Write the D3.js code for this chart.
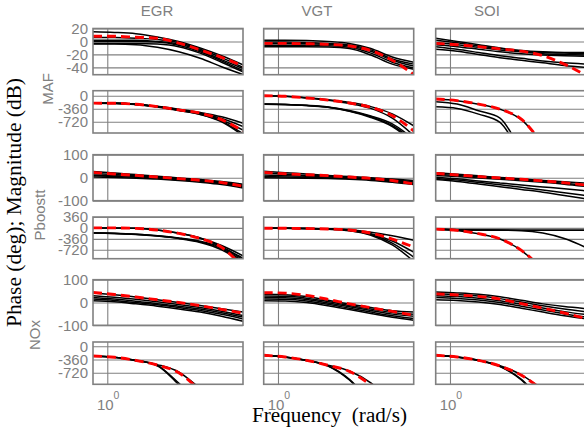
<!DOCTYPE html>
<html><head><meta charset="utf-8">
<script src="https://cdn.jsdelivr.net/npm/d3@7"></script>
<style>html,body{margin:0;padding:0;background:#fff;overflow:hidden}</style>
</head><body><svg id="c" width="584" height="432"></svg>
<script>
// ---------------- data ----------------
const freqs = [0.794, 1.122, 1.585, 2.239, 3.162, 4.467, 6.310, 8.913]; // rad/s
const inputs = ["EGR", "VGT", "SOI"];
const outputs = ["MAF", "Pboostt", "NOx"];
const magTicks = {MAF: [20, 0, -20, -40], Pboostt: [100, 0, -100], NOx: [100, 0, -100]};
const phaseTicks = {MAF: [0, -360, -720], Pboostt: [360, 0, -360, -720], NOx: [0, -360, -720]};
const xTickValues = [1];

// EGR column
const EGR_MAF_mag_red = [8, 8, 6.5, 5, -2.5, -13, -24.5, -38];
const EGR_MAF_mag_black = [
  [15, 14, 12, 7, 0, -10, -22, -36],
  [6, 6, 5, 3, -2, -12, -25, -40],
  [2, 2, 2, 0, -4, -14, -28, -42],
  [0, 0, 0, -1, -6, -16, -30, -45],
  [-3, -3, -3, -4, -8, -18, -32, -47],
  [-4, -4, -5, -9, -16, -26, -39, -51]];
const EGR_MAF_phase_red = [-205, -208, -235, -300, -390, -480, -660, -980];
const EGR_MAF_phase_black = [
  [-205, -208, -232, -290, -370, -460, -580, -760],
  [-205, -210, -238, -300, -385, -485, -630, -850],
  [-205, -210, -240, -305, -395, -500, -670, -950],
  [-205, -210, -240, -305, -400, -510, -700, -1050],
  [-205, -212, -245, -310, -410, -520, -720, -1100]];
const EGR_Pboostt_mag_red = [23, 16, 10, 3, -4, -11, -21, -37];
const EGR_Pboostt_mag_black = [
  [27, 20, 14, 6, -1, -8, -17, -28],
  [18, 14, 9, 3, -4, -11, -20, -32],
  [12, 9, 5, 0, -6, -13, -23, -36],
  [8, 5, 2, -3, -9, -16, -26, -40],
  [3, 1, -2, -6, -12, -20, -30, -45]];
const EGR_Pboostt_phase_red = [0, 0, -15, -70, -180, -350, -640, -1300];
const EGR_Pboostt_phase_black = [
  [-165, -180, -210, -260, -340, -460, -680, -1100],
  [-170, -185, -215, -270, -350, -480, -720, -1150],
  [0, 0, -12, -65, -170, -330, -580, -920],
  [0, 0, -15, -70, -175, -340, -620, -1050],
  [-160, -175, -205, -255, -330, -440, -640, -1000]];
const EGR_NOx_mag_red = [44, 35, 24, 12, 0, -14, -30, -47];
const EGR_NOx_mag_black = [
  [42, 34, 24, 12, 0, -13, -27, -42],
  [30, 23, 14, 3, -9, -22, -38, -57],
  [22, 15, 6, -5, -16, -29, -45, -64],
  [15, 9, 0, -10, -22, -35, -52, -72],
  [8, 3, -6, -16, -28, -42, -60, -82]];
const EGR_NOx_phase_red = [-265, -300, -385, -510, -720, -1200, -1700, -2200];
const EGR_NOx_phase_black = [
  [-262, -298, -385, -520, -1000, -1500, -2000, -2500],
  [-268, -302, -392, -530, -1040, -1550, -2050, -2550],
  [-265, -300, -382, -500, -700, -1150, -1600, -2100]];

// VGT column
const VGT_MAF_mag_red = [-3, -3, -3.5, -4.5, -7, -14, -29, -51];
const VGT_MAF_mag_black = [
  [2, 2, 1.5, 0, -3, -11, -24, -32],
  [-1, -1, -1.5, -3, -5.5, -13, -27, -35],
  [-3, -3, -3.5, -4.5, -7, -15, -29, -38],
  [-6, -6, -6, -6.5, -9, -18, -32, -41],
  [-8, -8, -8, -8.5, -11, -21, -35, -43]];
const VGT_MAF_phase_red = [0, -15, -60, -120, -200, -320, -550, -970];
const VGT_MAF_phase_black = [
  [0, -12, -55, -110, -185, -300, -500, -830],
  [-230, -240, -265, -310, -410, -560, -780, -1200],
  [-235, -245, -270, -320, -430, -600, -850, -1300],
  [0, -15, -62, -125, -215, -350, -620, -1100],
  [-230, -240, -268, -315, -420, -580, -820, -1250]];
const VGT_Pboostt_mag_red = [23, 17, 13, 9, 3, -3, -12, -27];
const VGT_Pboostt_mag_black = [
  [28, 22, 16, 10, 5, 0, -6, -12],
  [20, 15, 10, 6, 1, -4, -10, -16],
  [12, 9, 6, 3, -1, -6, -13, -20],
  [5, 3, 1, -1, -4, -9, -17, -25],
  [0, -1, -2, -4, -7, -12, -20, -30]];
const VGT_Pboostt_phase_red = [-10, -12, -20, -35, -70, -170, -370, -630];
const VGT_Pboostt_phase_black = [
  [-5, -8, -15, -28, -60, -140, -260, -410],
  [-10, -12, -20, -35, -75, -190, -430, -800],
  [-10, -12, -22, -40, -85, -220, -500, -960],
  [-12, -14, -25, -45, -95, -240, -560, -1100]];
const VGT_NOx_mag_red = [43, 41, 31, 14, -6, -23, -39, -56];
const VGT_NOx_mag_black = [
  [36, 34, 26, 10, -7, -22, -36, -42],
  [28, 27, 19, 4, -13, -29, -44, -52],
  [22, 21, 13, -2, -19, -35, -51, -60],
  [15, 14, 7, -8, -25, -42, -58, -70],
  [8, 7, 0, -14, -31, -48, -65, -78]];
const VGT_NOx_phase_red = [-246, -292, -382, -519, -683, -1050, -1500, -2000];
const VGT_NOx_phase_black = [
  [-246, -292, -385, -530, -900, -1500, -2000, -2500],
  [-250, -296, -390, -538, -920, -1520, -2020, -2520],
  [-246, -292, -380, -515, -675, -1000, -1500, -2000]];

// SOI column
const SOI_MAF_mag_red = [-3, -5, -8, -11.5, -15, -22, -35, -52];
const SOI_MAF_mag_black = [
  [5, 0, -5, -10, -14, -16, -17, -17],
  [2, -2, -7, -11, -15, -17, -18, -19],
  [-2, -5, -9, -13, -16, -19, -20, -21],
  [-5, -8, -12, -16, -19, -21, -22, -23],
  [-8, -12, -17, -22, -26, -30, -33, -35],
  [-12, -15, -20, -25, -29, -33, -37, -40]];
const SOI_MAF_phase_red = [-90, -135, -230, -370, -650, -1300, -1800, -2300];
const SOI_MAF_phase_black = [
  [-92, -137, -233, -374, -660, -1310, -1800, -2300],
  [-165, -230, -415, -617, -1500, -2200, -2700, -3200],
  [-305, -350, -507, -737, -1600, -2300, -2800, -3300]];
const SOI_Pboostt_mag_red = [19, 12, 5, -1, -7, -14, -22, -32];
const SOI_Pboostt_mag_black = [
  [22, 15, 8, 1, -5, -12, -18, -24],
  [15, 10, 4, -3, -9, -16, -24, -32],
  [10, 5, -1, -7, -13, -20, -28, -38],
  [2, -5, -14, -23, -32, -40, -48, -57],
  [-3, -10, -20, -31, -42, -53, -65, -78],
  [-8, -16, -27, -39, -51, -63, -77, -92]];
const SOI_Pboostt_phase_red = [-40, -80, -190, -360, -740, -1350, -1900, -2400];
const SOI_Pboostt_phase_black = [
  [-40, -82, -195, -365, -745, -1360, -1900, -2400],
  [-40, -60, -70, -72, -75, -75, -75, -75],
  [-45, -65, -75, -78, -80, -80, -80, -80],
  [-40, -60, -70, -75, -90, -170, -350, -640]];
const SOI_NOx_mag_red = [38, 33, 27, 15, -5, -25, -46, -70];
const SOI_NOx_mag_black = [
  [46, 42, 36, 25, 10, -6, -18, -27],
  [38, 34, 28, 17, 2, -14, -28, -40],
  [30, 26, 19, 8, -8, -24, -40, -53],
  [22, 18, 11, 0, -16, -33, -50, -63],
  [12, 9, 2, -9, -25, -42, -58, -71]];
const SOI_NOx_phase_red = [-246, -292, -382, -538, -792, -1200, -1700, -2200];
const SOI_NOx_phase_black = [
  [-246, -292, -385, -545, -900, -1500, -2000, -2500],
  [-250, -296, -390, -550, -920, -1520, -2020, -2520],
  [-246, -292, -380, -530, -780, -1180, -1600, -2000]];

// lookup table built from the arrays above
const series = {
  EGR: {MAF: {mag: [EGR_MAF_mag_red, EGR_MAF_mag_black], phase: [EGR_MAF_phase_red, EGR_MAF_phase_black]},
        Pboostt: {mag: [EGR_Pboostt_mag_red, EGR_Pboostt_mag_black], phase: [EGR_Pboostt_phase_red, EGR_Pboostt_phase_black]},
        NOx: {mag: [EGR_NOx_mag_red, EGR_NOx_mag_black], phase: [EGR_NOx_phase_red, EGR_NOx_phase_black]}},
  VGT: {MAF: {mag: [VGT_MAF_mag_red, VGT_MAF_mag_black], phase: [VGT_MAF_phase_red, VGT_MAF_phase_black]},
        Pboostt: {mag: [VGT_Pboostt_mag_red, VGT_Pboostt_mag_black], phase: [VGT_Pboostt_phase_red, VGT_Pboostt_phase_black]},
        NOx: {mag: [VGT_NOx_mag_red, VGT_NOx_mag_black], phase: [VGT_NOx_phase_red, VGT_NOx_phase_black]}},
  SOI: {MAF: {mag: [SOI_MAF_mag_red, SOI_MAF_mag_black], phase: [SOI_MAF_phase_red, SOI_MAF_phase_black]},
        Pboostt: {mag: [SOI_Pboostt_mag_red, SOI_Pboostt_mag_black], phase: [SOI_Pboostt_phase_red, SOI_Pboostt_phase_black]},
        NOx: {mag: [SOI_NOx_mag_red, SOI_NOx_mag_black], phase: [SOI_NOx_phase_red, SOI_NOx_phase_black]}}
};

// ---------------- layout ----------------
const colX = [93, 263.7, 435.7];
const panelW = 150;
const rowLayout = [
  {out: "MAF", kind: "mag", top: 28.5, bottom: 74.7, domain: [-51.3, 20]},
  {out: "MAF", kind: "phase", top: 90.7, bottom: 133, domain: [-1030, 140]},
  {out: "Pboostt", kind: "mag", top: 154.7, bottom: 200.7, domain: [-100, 100]},
  {out: "Pboostt", kind: "phase", top: 217, bottom: 258.7, domain: [-1015, 360]},
  {out: "NOx", kind: "mag", top: 279.7, bottom: 325.3, domain: [-100, 100]},
  {out: "NOx", kind: "phase", top: 342, bottom: 384.3, domain: [-1036, 117]}
];
const rowLabelPos = {MAF: {x: 53, y: 89}, Pboostt: {x: 45, y: 215}, NOx: {x: 40, y: 335}};
const colTitleX = [157, 317, 487];
const grey = "#808080";
const sans = "'Liberation Sans', Arial, Helvetica, sans-serif";
const serif = "'Liberation Serif', 'Times New Roman', serif";

const svg = d3.select("#c");
const defs = svg.append("defs");

rowLayout.forEach((r, ri) => {
  inputs.forEach((inp, ci) => {
    const x0 = colX[ci];
    const x = d3.scaleLog().domain([Math.pow(10, -0.1), Math.pow(10, 0.95)]).range([x0, x0 + panelW]);
    const y = d3.scaleLinear().domain(r.domain).range([r.bottom, r.top]);
    const h = r.bottom - r.top;
    const ticks = r.kind === "mag" ? magTicks[r.out] : phaseTicks[r.out];
    const g = svg.append("g");

    // horizontal grid (+ tick labels in first column)
    const ya = d3.axisLeft(y).tickValues(ticks).tickSize(-panelW).tickPadding(5)
      .tickFormat(ci === 0 ? (d => String(d)) : (() => ""));
    const yg = g.append("g").attr("transform", `translate(${x0},0)`).call(ya);
    yg.select(".domain").remove();
    yg.selectAll(".tick line").attr("stroke", grey).attr("stroke-width", 1.1);
    yg.selectAll(".tick text").attr("fill", grey).attr("font-family", sans).attr("font-size", 15);

    // vertical grid
    const xa = d3.axisBottom(x).tickValues(xTickValues).tickSize(-h).tickFormat(() => "");
    const xg = g.append("g").attr("transform", `translate(0,${r.bottom})`).call(xa);
    xg.select(".domain").remove();
    xg.selectAll(".tick line").attr("stroke", grey).attr("stroke-width", 1.1);

    // clip
    const cid = `clip-${ri}-${ci}`;
    defs.append("clipPath").attr("id", cid).append("rect")
      .attr("x", x0).attr("y", r.top).attr("width", panelW).attr("height", h);

    const [red, blacks] = series[inp][r.out][r.kind];
    const line = d3.line().x((d, i) => x(freqs[i])).y(d => y(d)).curve(d3.curveMonotoneX);
    const dg = g.append("g").attr("clip-path", `url(#${cid})`);
    dg.selectAll("path.blk").data(blacks).join("path").attr("class", "blk")
      .attr("d", line).attr("fill", "none").attr("stroke", "#000").attr("stroke-width", 1.5);
    dg.append("path").attr("d", line(red)).attr("fill", "none")
      .attr("stroke", "#ff0000").attr("stroke-width", 2.9).attr("stroke-dasharray", "9,5");

    // border
    g.append("rect").attr("x", x0).attr("y", r.top).attr("width", panelW).attr("height", h)
      .attr("fill", "none").attr("stroke", grey).attr("stroke-width", 1.6);

    // x tick labels on bottom row
    if (ri === rowLayout.length - 1) {
      xTickValues.forEach(v => {
        const px = x(v);
        svg.append("text").attr("x", px - 10.3).attr("y", 410).attr("fill", grey)
          .attr("font-family", sans).attr("font-size", 15).text("10");
        svg.append("text").attr("x", px + 6.3).attr("y", 399).attr("fill", grey)
          .attr("font-family", sans).attr("font-size", 10.5).text(Math.round(Math.log10(v)));
      });
    }
  });
});

// column titles
inputs.forEach((inp, ci) => {
  svg.append("text").attr("x", colTitleX[ci]).attr("y", 16).attr("text-anchor", "middle")
    .attr("fill", grey).attr("font-family", sans).attr("font-size", 15).text(inp);
});
// row labels
outputs.forEach(o => {
  const p = rowLabelPos[o];
  svg.append("text").attr("transform", `translate(${p.x},${p.y}) rotate(-90)`)
    .attr("text-anchor", "middle").attr("fill", grey).attr("font-family", sans)
    .attr("font-size", 15).text(o);
});
// axis labels
svg.append("text").attr("x", 252).attr("y", 421.5).attr("font-family", serif).attr("font-size", 20.5)
  .attr("fill", "#000").attr("textLength", 155).attr("lengthAdjust", "spacingAndGlyphs")
  .attr("xml:space", "preserve").style("white-space", "pre").text("Frequency  (rad/s)");
svg.append("text").attr("transform", "translate(21,202.5) rotate(-90)").attr("text-anchor", "middle")
  .attr("font-family", serif).attr("font-size", 20.5).attr("fill", "#000")
  .attr("textLength", 249).attr("lengthAdjust", "spacingAndGlyphs")
  .text("Phase (deg); Magnitude (dB)");
</script></body></html>
